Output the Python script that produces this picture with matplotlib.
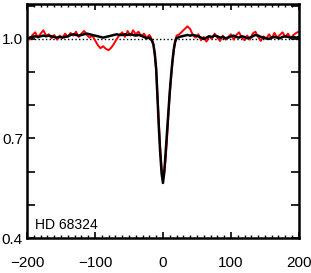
import matplotlib
matplotlib.use('Agg')
import matplotlib.pyplot as plt
from matplotlib.ticker import MultipleLocator, FixedLocator

#velocity grid (km/s): coarse in the wings, finer in the line core
vel_left = list(range(-200, -20, 4))
vel_core = list(range(-20, 21, 2))
vel_right = list(range(24, 201, 4))
velocity = vel_left + vel_core + vel_right

#model profile (black)
model_left = [1.000, 1.004, 1.006, 1.008, 1.006, 1.008, 1.010, 1.008, 1.010, 1.008,
	1.006, 1.004, 1.006, 1.004, 1.006, 1.008, 1.012, 1.014, 1.012, 1.010,
	1.012, 1.014, 1.016, 1.014, 1.012, 1.010, 1.008, 1.006, 1.004, 1.006,
	1.008, 1.010, 1.012, 1.014, 1.012, 1.012, 1.014, 1.012, 1.014, 1.012,
	1.010, 1.012, 1.010, 1.006, 1.002]
model_core = [1.004, 1.000, 0.994, 0.982, 0.955, 0.910, 0.820, 0.730, 0.655, 0.595,
	0.566, 0.600, 0.660, 0.720, 0.780, 0.840, 0.890, 0.935, 0.970, 0.992, 1.002]
model_right = [1.006, 1.008, 1.010, 1.012, 1.010, 1.012, 1.010, 1.008, 1.004, 1.000,
	1.004, 1.008, 1.006, 1.010, 1.008, 1.004, 1.006, 1.002, 1.004, 1.008,
	1.010, 1.006, 1.004, 1.008, 1.006, 1.002, 1.004, 1.008, 1.012, 1.010,
	1.006, 1.004, 1.002, 1.000, 1.004, 1.006, 1.004, 1.002, 1.006, 1.008,
	1.006, 1.004, 1.006, 1.004, 1.006]

#observed profile (red)
obs_left = [1.008, 0.998, 1.012, 1.020, 1.004, 1.016, 1.026, 1.010, 1.014, 1.002,
	1.012, 0.998, 1.010, 1.004, 1.016, 1.006, 1.018, 1.010, 1.022, 1.006,
	1.016, 1.024, 1.012, 1.004, 1.010, 0.996, 0.982, 0.972, 0.978, 0.970,
	0.966, 0.974, 0.986, 1.000, 1.012, 1.020, 1.006, 1.024, 1.010, 1.026,
	1.014, 1.022, 1.008, 1.016, 1.004]
obs_core = [1.012, 1.006, 0.996, 0.985, 0.950, 0.905, 0.830, 0.745, 0.670, 0.615,
	0.590, 0.600, 0.640, 0.700, 0.770, 0.835, 0.885, 0.930, 0.965, 0.995, 1.010]
obs_right = [1.014, 1.022, 1.030, 1.038, 1.030, 1.012, 1.004, 1.014, 0.996, 1.006,
	0.992, 1.008, 1.000, 1.016, 1.004, 0.994, 1.010, 0.998, 1.006, 1.014,
	0.998, 1.012, 1.020, 1.004, 0.996, 1.010, 0.998, 1.016, 1.022, 1.006,
	0.994, 1.008, 1.000, 1.014, 1.002, 1.018, 1.004, 1.012, 1.020, 1.006,
	1.016, 1.002, 1.012, 1.018, 1.022]

model = model_left + model_core + model_right
observed = obs_left + obs_core + obs_right

star_name = 'HD 68324'
x_ticks = [-200, -100, 0, 100, 200]
y_ticks = [0.4, 0.7, 1.0]

plt.rcParams['font.family'] = ['Liberation Sans', 'DejaVu Sans']

fig = plt.figure(figsize=(3.11, 2.73), dpi=100)
ax = fig.add_axes([0.087, 0.128, 0.874, 0.857])

ax.axhline(1.0, color='black', linestyle=':', linewidth=1.0, zorder=1)
ax.plot(velocity, observed, color='red', linewidth=1.4, zorder=2)
ax.plot(velocity, model, color='black', linewidth=1.8, zorder=3)

ax.set_xlim(-200, 200)
ax.set_ylim(0.4, 1.105)

#ticks
ax.xaxis.set_major_locator(FixedLocator(x_ticks))
ax.xaxis.set_minor_locator(MultipleLocator(10))
ax.yaxis.set_major_locator(FixedLocator(y_ticks))
ax.yaxis.set_minor_locator(MultipleLocator(0.1))
ax.set_xticklabels([str(t).replace('-', '\u2212') for t in x_ticks])
ax.set_yticklabels(['%.1f' % t for t in y_ticks])

ax.tick_params(axis='x', which='both', direction='in', top=True, bottom=True, labelsize=11, pad=13)
ax.tick_params(axis='x', which='major', length=4, width=1.2)
ax.tick_params(axis='x', which='minor', length=2, width=1.0)
ax.tick_params(axis='y', which='both', direction='in', left=True, right=True, labelsize=11, pad=3, length=6, width=1.2)

for s in ax.spines.values():
	s.set_linewidth(1.8)

ax.text(0.03, 0.025, star_name, transform=ax.transAxes, fontsize=10, ha='left', va='bottom')

fig.savefig('out.png', dpi=100)
